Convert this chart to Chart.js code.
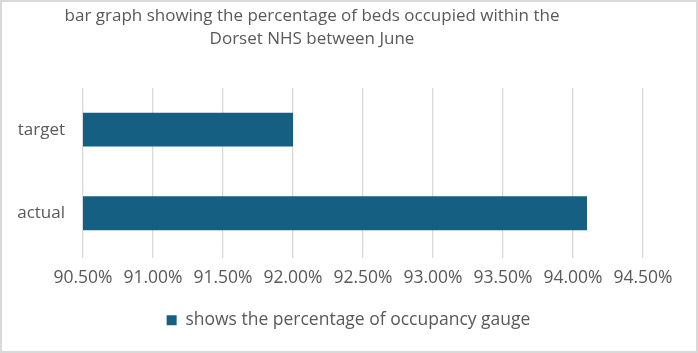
<!DOCTYPE html>
<html>
<head>
<meta charset="utf-8">
<script src="https://cdn.jsdelivr.net/npm/chart.js@4/dist/chart.umd.min.js"></script>
<style>
  html, body { margin: 0; padding: 0; background: #fff; }
  #wrap { width: 698px; height: 353px; box-sizing: border-box; border: 2px solid #d9d9d9; background: #fff; }
  canvas { display: block; }
</style>
</head>
<body>
<div id="wrap"><canvas id="c" width="694" height="349"></canvas></div>
<script>
const titleLines = ['bar graph showing the percentage of beds occupied within the', 'Dorset NHS between June'];
const categories = ['target', 'actual'];
const seriesLabel = 'shows the percentage of occupancy gauge';
const seriesValues = [92.0, 94.1];
const tickValues = [90.5, 91.0, 91.5, 92.0, 92.5, 93.0, 93.5, 94.0, 94.5];

const FONT = '"Open Sans", sans-serif';
const TEXT = '#595959';

const shiftBlocks = {
  id: 'shiftBlocks',
  afterLayout(chart) {
    const t = chart.titleBlock;
    if (t) { t.left = 0; t.right = 620; }
    const l = chart.legend;
    if (l) { l.left = 26; l.right = 667; }
  }
};

new Chart(document.getElementById('c'), {
  type: 'bar',
  data: {
    labels: categories,
    datasets: [{
      label: seriesLabel,
      data: seriesValues,
      backgroundColor: '#156082',
      borderWidth: 0,
      categoryPercentage: 1,
      barPercentage: 0.405
    }]
  },
  options: {
    indexAxis: 'y',
    responsive: false,
    animation: false,
    layout: { padding: { left: 0, right: 53, top: 0, bottom: 12 } },
    plugins: {
      title: {
        display: true,
        text: titleLines,
        color: TEXT,
        font: { family: FONT, size: 17, weight: 'normal', lineHeight: 1.32 },
        padding: { top: 3, bottom: 38 }
      },
      legend: {
        position: 'bottom',
        labels: {
          color: TEXT,
          font: { family: FONT, size: 17.5 },
          boxWidth: 10,
          boxHeight: 10,
          padding: 9
        }
      },
      tooltip: { enabled: false }
    },
    scales: {
      x: {
        min: 90.5,
        max: 94.5,
        afterBuildTicks(scale) { scale.ticks = tickValues.map(v => ({ value: v })); },
        ticks: {
          color: TEXT,
          font: { family: FONT, size: 17.5 },
          padding: 10,
          callback: v => Number(v).toFixed(2) + '%'
        },
        grid: { color: '#d9d9d9', lineWidth: 1.3, tickLength: 3, drawTicks: true },
        border: { display: false },
        afterFit(scale) { scale.height = 47.5; }
      },
      y: {
        ticks: { color: TEXT, font: { family: FONT, size: 17 }, padding: 10 },
        grid: { display: false },
        border: { display: false },
        afterFit(scale) { scale.width = 81; }
      }
    }
  },
  plugins: [shiftBlocks]
});
</script>
</body>
</html>
